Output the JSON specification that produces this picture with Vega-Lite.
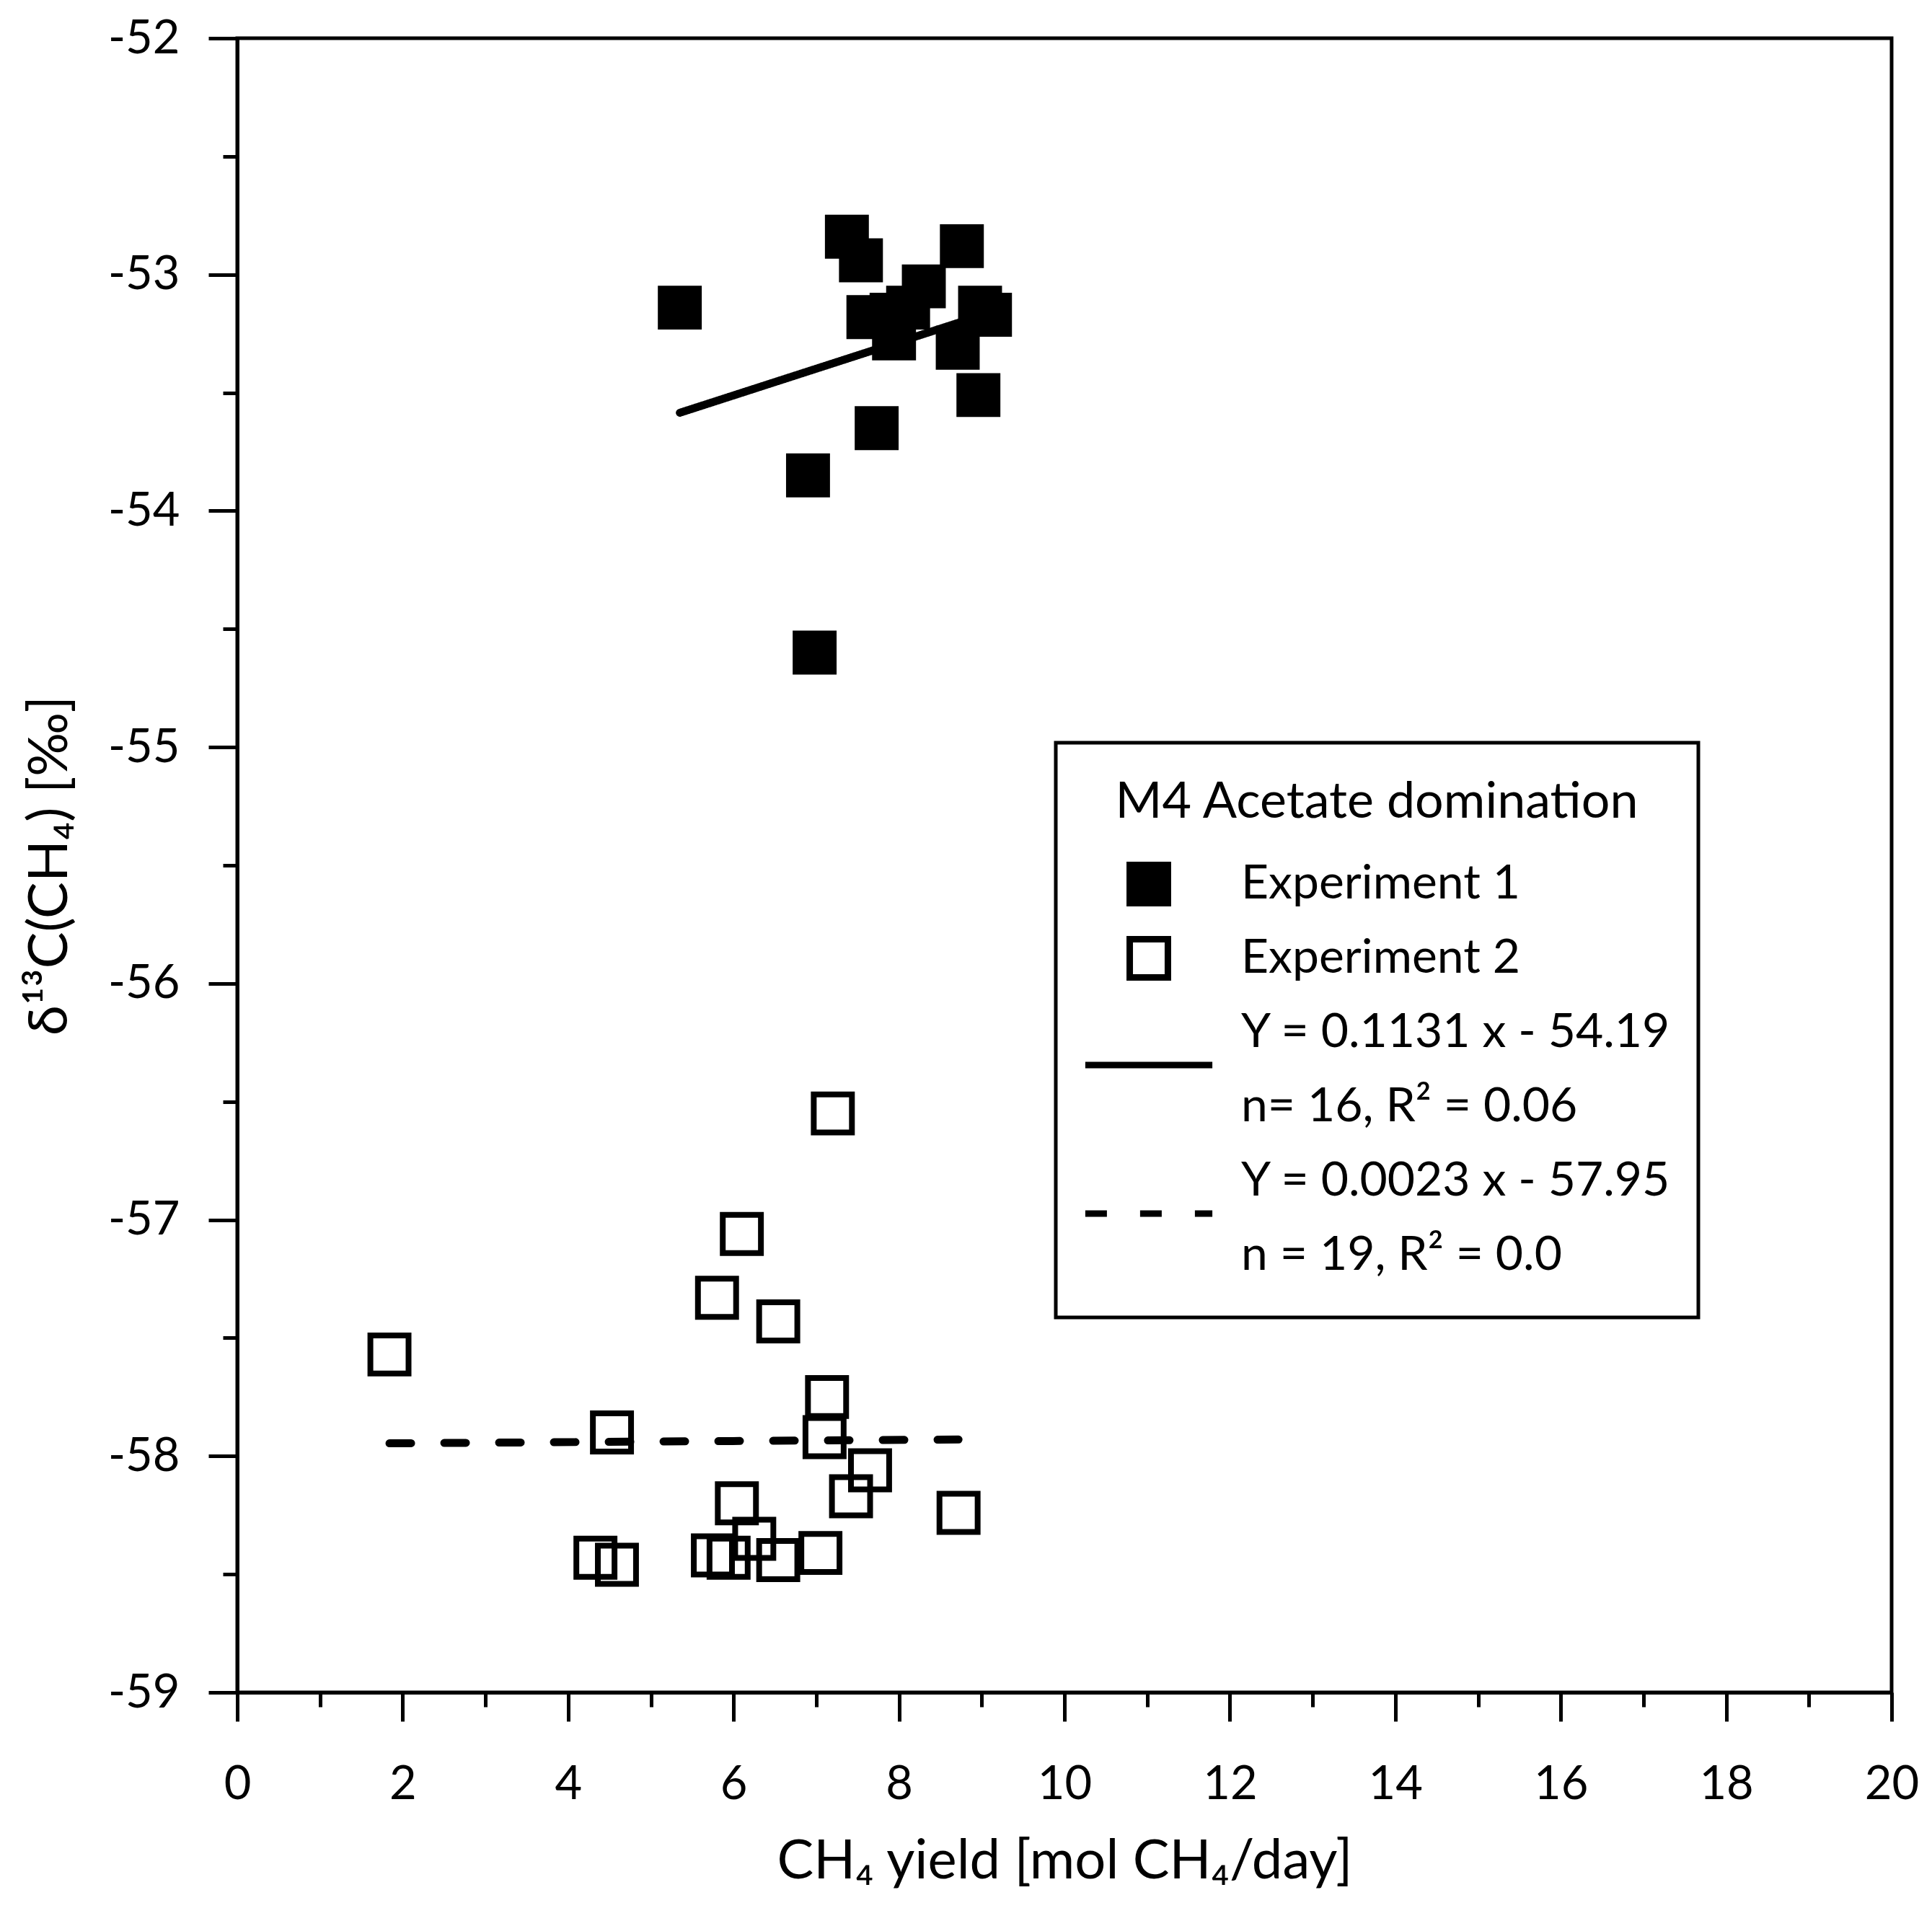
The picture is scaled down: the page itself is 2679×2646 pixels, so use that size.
{
  "$schema": "https://vega.github.io/schema/vega-lite/v6.json",
  "autosize": {"type": "none"},
  "padding": {"left": 329, "top": 53, "right": 56, "bottom": 299},
  "width": 2294,
  "height": 2294,
  "background": "white",
  "view": {"stroke": "black", "strokeWidth": 5},
  "config": {
    "font": "Lato",
    "axis": {
      "grid": false,
      "domainColor": "black",
      "domainWidth": 5,
      "tickColor": "black",
      "tickWidth": 5,
      "labelFont": "Lato",
      "labelFontSize": 65,
      "labelColor": "black",
      "labelFlush": false,
      "labelOverlap": false,
      "titleFont": "Lato",
      "titleFontSize": 76,
      "titleFontWeight": "normal",
      "titleColor": "black"
    },
    "legend": {
      "orient": "none",
      "legendX": 1135,
      "legendY": 977,
      "padding": 36,
      "strokeColor": "black",
      "strokeWidth": 5,
      "fillColor": "white",
      "titleFont": "Lato",
      "titleFontSize": 70,
      "titleFontWeight": "normal",
      "titleColor": "black",
      "titleAnchor": "middle",
      "titleBaseline": "line-top",
      "titleLineHeight": 96,
      "titlePadding": 40,
      "titleLimit": 3000,
      "labelFont": "Lato",
      "labelFontSize": 66,
      "labelColor": "black",
      "labelOffset": 95,
      "labelLimit": 3000,
      "rowPadding": 3,
      "clipHeight": 100,
      "symbolSize": 2800,
      "symbolOffset": 60,
      "symbolStrokeColor": "black",
      "symbolStrokeWidth": 9,
      "symbolOpacity": 1
    }
  },
  "datasets": {
    "points": [
      {"series": "Experiment 1", "yield": 5.35, "d13C": -53.14},
      {"series": "Experiment 1", "yield": 7.37, "d13C": -52.84},
      {"series": "Experiment 1", "yield": 7.54, "d13C": -52.94},
      {"series": "Experiment 1", "yield": 8.76, "d13C": -52.88},
      {"series": "Experiment 1", "yield": 8.30, "d13C": -53.05},
      {"series": "Experiment 1", "yield": 7.63, "d13C": -53.18},
      {"series": "Experiment 1", "yield": 7.91, "d13C": -53.17},
      {"series": "Experiment 1", "yield": 8.11, "d13C": -53.14},
      {"series": "Experiment 1", "yield": 7.94, "d13C": -53.27},
      {"series": "Experiment 1", "yield": 8.98, "d13C": -53.14},
      {"series": "Experiment 1", "yield": 9.10, "d13C": -53.17},
      {"series": "Experiment 1", "yield": 8.71, "d13C": -53.31},
      {"series": "Experiment 1", "yield": 8.96, "d13C": -53.51},
      {"series": "Experiment 1", "yield": 7.73, "d13C": -53.65},
      {"series": "Experiment 1", "yield": 6.90, "d13C": -53.85},
      {"series": "Experiment 1", "yield": 6.98, "d13C": -54.60},
      {"series": "Experiment 2", "yield": 7.20, "d13C": -56.55},
      {"series": "Experiment 2", "yield": 6.10, "d13C": -57.06},
      {"series": "Experiment 2", "yield": 5.80, "d13C": -57.33},
      {"series": "Experiment 2", "yield": 6.54, "d13C": -57.43},
      {"series": "Experiment 2", "yield": 1.84, "d13C": -57.57},
      {"series": "Experiment 2", "yield": 7.13, "d13C": -57.75},
      {"series": "Experiment 2", "yield": 4.53, "d13C": -57.90},
      {"series": "Experiment 2", "yield": 7.10, "d13C": -57.92},
      {"series": "Experiment 2", "yield": 7.65, "d13C": -58.06},
      {"series": "Experiment 2", "yield": 7.42, "d13C": -58.17},
      {"series": "Experiment 2", "yield": 8.72, "d13C": -58.24},
      {"series": "Experiment 2", "yield": 6.04, "d13C": -58.20},
      {"series": "Experiment 2", "yield": 6.25, "d13C": -58.35},
      {"series": "Experiment 2", "yield": 4.33, "d13C": -58.43},
      {"series": "Experiment 2", "yield": 4.59, "d13C": -58.46},
      {"series": "Experiment 2", "yield": 5.75, "d13C": -58.42},
      {"series": "Experiment 2", "yield": 5.94, "d13C": -58.43},
      {"series": "Experiment 2", "yield": 6.54, "d13C": -58.44},
      {"series": "Experiment 2", "yield": 7.05, "d13C": -58.41}
    ],
    "fits": [
      {"series": "Y = 0.1131 x - 54.19", "yield": 5.35, "d13C": -53.585},
      {"series": "Y = 0.1131 x - 54.19", "yield": 9.10, "d13C": -53.161},
      {"series": "Y = 0.0023 x - 57.95", "yield": 1.84, "d13C": -57.946},
      {"series": "Y = 0.0023 x - 57.95", "yield": 8.72, "d13C": -57.930}
    ]
  },
  "encoding": {
    "x": {
      "field": "yield",
      "type": "quantitative",
      "scale": {"domain": [0, 20], "nice": false, "zero": false},
      "axis": {
        "title": "CH₄ yield [mol CH₄/day]",
        "values": [0, 1, 2, 3, 4, 5, 6, 7, 8, 9, 10, 11, 12, 13, 14, 15, 16, 17, 18, 19, 20],
        "labelExpr": "datum.value % 2 == 0 ? '' + datum.value : ''",
        "tickSize": {"condition": {"test": "datum.value % 2 != 0", "value": 20}, "value": 40},
        "labelPadding": 56,
        "titlePadding": 37
      }
    },
    "y": {
      "field": "d13C",
      "type": "quantitative",
      "scale": {"domain": [-59, -52], "nice": false, "zero": false},
      "axis": {
        "title": "δ¹³C(CH₄) [‰]",
        "values": [-59, -58.5, -58, -57.5, -57, -56.5, -56, -55.5, -55, -54.5, -54, -53.5, -53, -52.5, -52],
        "labelExpr": "datum.value % 1 == 0 ? '' + datum.value : ''",
        "tickSize": {"condition": {"test": "datum.value % 1 != 0", "value": 20}, "value": 40},
        "labelPadding": 40,
        "titlePadding": 41
      }
    }
  },
  "layer": [
    {
      "data": {"name": "points"},
      "mark": {"type": "point", "opacity": 1, "size": 2800, "strokeWidth": 8},
      "encoding": {
        "stroke": {
          "field": "series",
          "type": "nominal",
          "scale": {
            "domain": ["Experiment 1", "Experiment 2", "Y = 0.1131 x - 54.19", "n= 16, R² = 0.06", "Y = 0.0023 x - 57.95", "n = 19, R² = 0.0"],
            "range": ["black", "black", "black", "black", "black", "black"]
          },
          "legend": {"title": "M4 Acetate domination"}
        },
        "shape": {
          "field": "series",
          "type": "nominal",
          "scale": {
            "domain": ["Experiment 1", "Experiment 2", "Y = 0.1131 x - 54.19", "n= 16, R² = 0.06", "Y = 0.0023 x - 57.95", "n = 19, R² = 0.0"],
            "range": ["square", "square", "M-3.33,1.7L3.33,1.7", "M0,0", "M-3.33,1.7L3.33,1.7", "M0,0"]
          },
          "legend": {"title": "M4 Acetate domination"}
        },
        "fill": {
          "field": "series",
          "type": "nominal",
          "scale": {
            "domain": ["Experiment 1", "Experiment 2", "Y = 0.1131 x - 54.19", "n= 16, R² = 0.06", "Y = 0.0023 x - 57.95", "n = 19, R² = 0.0"],
            "range": ["black", "transparent", "transparent", "transparent", "transparent", "transparent"]
          },
          "legend": {"title": "M4 Acetate domination"}
        }
      }
    },
    {
      "data": {"name": "fits"},
      "mark": {"type": "line", "strokeCap": "round", "strokeWidth": 11},
      "encoding": {
        "stroke": {
          "field": "series",
          "type": "nominal",
          "scale": {
            "domain": ["Experiment 1", "Experiment 2", "Y = 0.1131 x - 54.19", "n= 16, R² = 0.06", "Y = 0.0023 x - 57.95", "n = 19, R² = 0.0"],
            "range": ["black", "black", "black", "black", "black", "black"]
          },
          "legend": {"title": "M4 Acetate domination"}
        },
        "strokeDash": {
          "field": "series",
          "type": "nominal",
          "scale": {
            "domain": ["Experiment 1", "Experiment 2", "Y = 0.1131 x - 54.19", "n= 16, R² = 0.06", "Y = 0.0023 x - 57.95", "n = 19, R² = 0.0"],
            "range": [[1, 0], [1, 0], [1, 0], [1, 0], [30, 46], [1, 0]]
          },
          "legend": {"title": "M4 Acetate domination"}
        }
      }
    }
  ]
}
